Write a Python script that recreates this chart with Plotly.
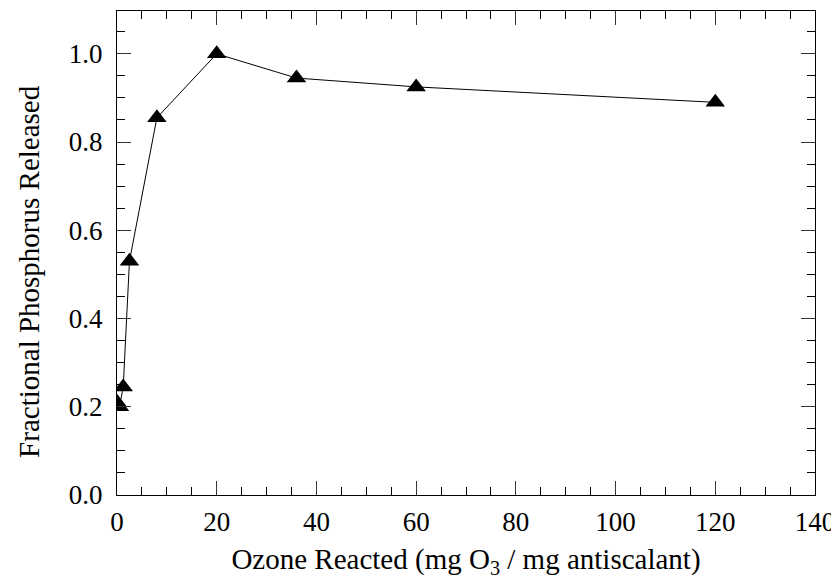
import plotly.graph_objects as go

# Ozone reacted (mg O3 / mg antiscalant) vs. fractional phosphorus released
ozone_reacted = [0, 0.5, 1.25, 2.5, 8, 20, 36, 60, 120]
phosphorus_released = [0.21, 0.2, 0.245, 0.53, 0.855, 1.0, 0.945, 0.925, 0.89]

x_ticks = [0, 20, 40, 60, 80, 100, 120, 140]
y_ticks = [0.0, 0.2, 0.4, 0.6, 0.8, 1.0]

font_family = "Liberation Serif"

fig = go.Figure()
fig.add_trace(go.Scatter(
    x=ozone_reacted, y=phosphorus_released,
    mode='lines+markers', showlegend=False,
    line=dict(color='black', width=1),
    marker=dict(symbol='triangle-up', size=17, color='black'),
))

axis_common = dict(
    showgrid=False, zeroline=False, automargin=False,
    showline=True, linecolor='black', linewidth=1,
    mirror='allticks', ticks='inside', ticklen=14, tickwidth=1,
    tickcolor='#333333',
    tickfont=dict(family=font_family, size=27, color='black'),
)

fig.update_xaxes(
    range=[0, 140], tickvals=x_ticks,
    minor=dict(dtick=5, ticks='inside', ticklen=8, tickcolor='black'),
    title=dict(text='Ozone Reacted (mg O<sub>3</sub> / mg antiscalant)',
               font=dict(family=font_family, size=29, color='black'),
               standoff=12),
    ticklabelstandoff=3,
    **axis_common,
)
fig.update_yaxes(
    range=[0, 1.097], tickvals=y_ticks, tickformat='.1f',
    minor=dict(dtick=0.05, ticks='inside', ticklen=8, tickcolor='black'),
    ticklabelstandoff=8,
    **axis_common,
)

# y title sits a bit below the plot's middle in the original, so place it by hand
fig.add_annotation(
    text='Fractional Phosphorus Released', textangle=-90,
    xref='paper', yref='paper', x=0, y=0.461,
    xanchor='center', yanchor='middle', xshift=-88, showarrow=False,
    font=dict(family=font_family, size=29, color='black'),
)

# the page adds an 8px body margin, so the figure is shrunk to fit the window
fig.update_layout(
    width=831, height=578,
    margin=dict(l=109, r=24, t=3, b=91),
    plot_bgcolor='white', paper_bgcolor='white',
    font=dict(family=font_family, size=27, color='black'),
)

fig.write_html("out.html")
